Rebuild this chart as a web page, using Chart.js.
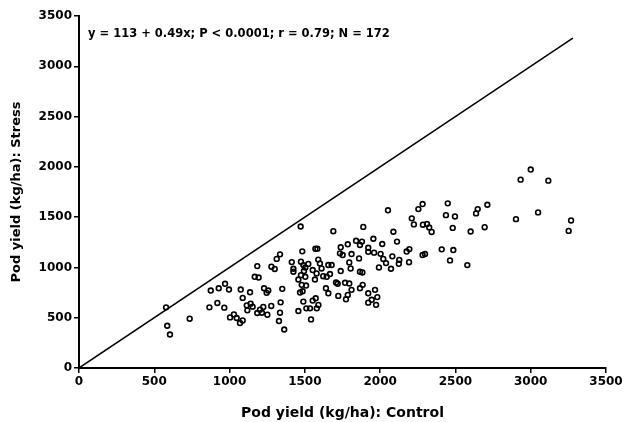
<!DOCTYPE html>
<html>
<head>
<meta charset="utf-8">
<script src="https://cdn.jsdelivr.net/npm/chart.js@4"></script>
<style>
  html, body { margin: 0; padding: 0; background: #fff; }
  #wrap { width: 626px; height: 422px; }
</style>
</head>
<body>
<div id="wrap"><canvas id="pods" width="626" height="422"></canvas></div>
<script>
// pod yield, control (x) vs stress (y), kg/ha
var controlYield = [
  578, 586, 604, 735, 875, 928, 970, 996, 866, 919, 965, 1003, 1029, 1047, 1069, 1087,
  1074, 1087, 1136, 1114, 1140, 1118, 1184, 1167, 1193, 1229, 1246, 1184, 1202, 1224, 1251,
  1257, 1153, 1215, 1277, 1350, 1339, 1335, 1328, 1363, 1457, 1468, 1485, 1490, 1510,
  1335, 1313, 1483, 1413, 1424, 1474, 1490, 1503, 1523, 1278, 1300, 1424, 1503, 1457, 1508,
  1472, 1689, 1888, 1570, 1583,
  1738, 1733, 1751, 1785, 1840, 1866, 1879, 1921, 1921, 1810, 1860, 1795, 1804, 1738, 1866, 1882,
  1494, 1474, 1552, 1578, 1567, 1600, 1611, 1622, 1645, 1656, 1678, 1667, 1707, 1767, 1795,
  1640, 1656, 1722, 1773, 1785, 1810, 1866, 1884, 1921, 1921, 1479, 1552, 1572, 1590, 1579, 1534, 1541,
  1589, 1718, 1960, 1955, 1992,
  2210, 2224, 2284, 2311, 2326, 2342, 2088, 2112, 2014, 2003, 2021, 2039, 2081, 2127, 2124,
  2176, 2194, 2192, 2282, 2298, 2072, 1966, 1981, 1944, 1973, 2052,
  2254, 2282, 2449, 2437, 2497, 2482, 2601, 2637, 2648, 2712, 2694, 2409, 2486, 2464, 2579,
  3000, 2933, 3117, 2902, 3049, 3268, 3252
];
var stressYield = [
  603, 420, 333, 490, 770, 793, 837, 780, 603, 647, 600, 503, 533, 497, 447, 473,
  780, 697, 753, 623, 640, 573, 1013, 907, 900, 793, 747, 547, 580, 607, 530,
  770, 610, 550, 617, 787, 653, 550, 467, 383, 567, 750, 763, 660, 593,
  1130, 1085, 1160, 1053, 987, 1057, 1023, 1000, 1035, 1007, 985, 957, 907, 880, 820,
  1407, 1360, 1403, 1185, 1185,
  1200, 1140, 1123, 1230, 1265, 1223, 1257, 1195, 1155, 1133, 1090, 1050, 990, 964, 957, 950,
  964, 923, 974, 940, 880, 1040, 990, 913, 907, 1024, 1024, 934, 850, 847, 840,
  793, 743, 717, 683, 727, 777, 793, 827, 743, 650, 827, 670, 693, 627, 593, 593, 483,
  1078, 838, 1147, 1285, 1000,
  1488, 1428, 1425, 1432, 1397, 1353, 1355, 1257, 1233, 1135, 1085, 1043, 1110, 1075, 1036,
  1158, 1182, 1052, 1123, 1133, 987, 777, 705, 678, 628, 1568,
  1580, 1630, 1637, 1520, 1507, 1393, 1357, 1537, 1580, 1623, 1400, 1180, 1173, 1070, 1023,
  1973, 1873, 1863, 1480, 1547, 1467, 1363
];
// 1:1 line
var lineX = [0, 3280];
var lineY = [0, 3280];
var axisTicks = [0, 500, 1000, 1500, 2000, 2500, 3000, 3500];
var noteText = 'y = 113 + 0.49x; P < 0.0001; r = 0.79; N = 172';

var pts = [];
for (var i = 0; i < controlYield.length; i++) {
    pts.push({ x: controlYield[i], y: stressYield[i] });
}
var linePts = [];
for (var j = 0; j < lineX.length; j++) {
    linePts.push({ x: lineX[j], y: lineY[j] });
}

var fontName = '"DejaVu Sans", Arial, sans-serif';

var notePlugin = {
    id: 'note',
    afterDatasetsDraw: function (chart) {
        var c = chart.ctx;
        var a = chart.chartArea;
        c.save();
        c.fillStyle = '#000';
        c.font = 'bold 11.5px ' + fontName;
        c.textBaseline = 'alphabetic';
        c.fillText(noteText, a.left + 9, a.top + 21);
        c.restore();
    }
};

function axisOpts(titleText, titleSize, titlePad) {
    return {
        type: 'linear',
        min: 0,
        max: 3500,
        afterBuildTicks: function (s) {
            s.ticks = axisTicks.map(function (v) { return { value: v }; });
        },
        border: { display: true, color: '#000', width: 2 },
        grid: {
            display: true, drawOnChartArea: false, drawTicks: true,
            tickLength: 5, color: '#000', lineWidth: 1.5
        },
        ticks: {
            color: '#000', padding: 2,
            font: { family: fontName, size: 12, weight: 'bold' },
            callback: function (v) { return String(v); }
        },
        title: {
            display: true, text: titleText, color: '#000',
            font: { family: fontName, size: titleSize, weight: 'bold' },
            padding: { top: titlePad, bottom: 0 }
        }
    };
}

var xOpts = axisOpts('Pod yield (kg/ha): Control', 14, 4);
xOpts.afterFit = function (s) { s.height = 54; };
var yOpts = axisOpts('Pod yield (kg/ha): Stress', 13, 9);
yOpts.afterFit = function (s) { s.width = 79; };

var ctx = document.getElementById('pods').getContext('2d');
var myChart = new Chart(ctx, {
    type: 'scatter',
    data: {
        datasets: [{
            label: 'Pods',
            data: pts,
            pointStyle: 'circle',
            pointRadius: 2.4,
            pointBorderWidth: 1.6,
            pointBorderColor: '#000',
            pointBackgroundColor: 'rgba(255,255,255,0)'
        }, {
            label: 'Identity',
            data: linePts,
            showLine: true,
            pointRadius: 0,
            borderColor: '#000',
            borderWidth: 1.5
        }]
    },
    options: {
        responsive: false,
        animation: false,
        devicePixelRatio: 1,
        layout: { padding: { left: 0, top: 16, right: 20, bottom: 0 } },
        plugins: { legend: { display: false }, tooltip: { enabled: false } },
        scales: { x: xOpts, y: yOpts }
    },
    plugins: [notePlugin]
});
</script>
</body>
</html>
